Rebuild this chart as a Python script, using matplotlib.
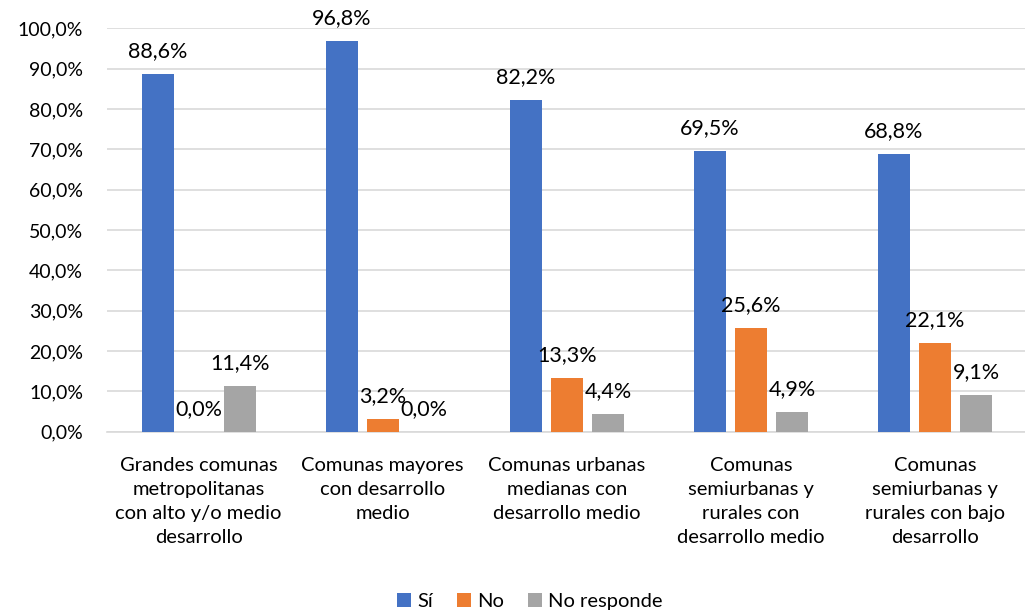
import matplotlib.pyplot as plt
import numpy as np

categories = ["Grandes comunas\nmetropolitanas\ncon alto y/o medio\ndesarrollo",
              "Comunas mayores\ncon desarrollo\nmedio",
              "Comunas urbanas\nmedianas con\ndesarrollo medio",
              "Comunas\nsemiurbanas y\nrurales con\ndesarrollo medio",
              "Comunas\nsemiurbanas y\nrurales con bajo\ndesarrollo"]
si = [88.6, 96.8, 82.2, 69.5, 68.8]
no = [0.0, 3.2, 13.3, 25.6, 22.1]
no_responde = [11.4, 0.0, 4.4, 4.9, 9.1]
series_names = ["Sí", "No", "No responde"]
colors = ["#4472C4", "#ED7D31", "#A5A5A5"]

plt.rcParams['font.family'] = ['Lato', 'DejaVu Sans']

fig = plt.figure(figsize=(10.25, 6.15), dpi=100)
ax = fig.add_axes([0.104, 0.298, 0.898, 0.656])

x = np.arange(len(categories))
width = 0.174
step = 0.223
for i, (vals, name, c) in enumerate(zip([si, no, no_responde], series_names, colors)):
    pos = x + (i - 1) * step
    ax.bar(pos, vals, width, color=c, label=name, zorder=3)
    for p, v in zip(pos, vals):
        ax.annotate(f"{v:.1f}%".replace(".", ","), (p, v), xytext=(0, 16.5),
                    textcoords="offset points", ha="center", va="center",
                    fontsize=15.5, color="black", zorder=4)

ax.set_xlim(-0.5, len(categories) - 0.5)
ax.set_ylim(0, 100)
ax.set_yticks(np.arange(0, 101, 10))
ax.set_yticklabels([f"{t:.1f}%".replace(".", ",") for t in np.arange(0, 101, 10)], fontsize=14)
ax.set_xticks(x)
ax.set_xticklabels(categories, fontsize=14.5, linespacing=1.5, va="top")
ax.tick_params(axis="both", length=0)
ax.tick_params(axis="y", pad=17)
ax.tick_params(axis="x", pad=18)
ax.grid(axis="y", color="#D9D9D9", linewidth=1.2, zorder=0)
for s in ["top", "right", "left"]:
    ax.spines[s].set_visible(False)
ax.spines["bottom"].set_color("#D9D9D9")
ax.spines["bottom"].set_linewidth(1.2)

fig.legend(loc="center", bbox_to_anchor=(0.517, 0.022), ncol=3, frameon=False,
           fontsize=14.5, handlelength=0.7, handleheight=0.7, handletextpad=0.3,
           columnspacing=1.2)

fig.savefig("out.png", dpi=100)
